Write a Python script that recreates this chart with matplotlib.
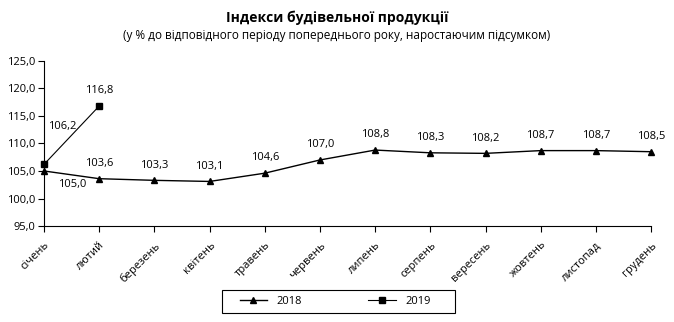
import matplotlib
matplotlib.use("Agg")
import matplotlib.pyplot as plt
from matplotlib.patches import Rectangle

plt.rcParams['font.family'] = ['Open Sans', 'DejaVu Sans']

months = ["січень", "лютий", "березень", "квітень", "травень", "червень",
          "липень", "серпень", "вересень", "жовтень", "листопад", "грудень"]
idx_2018 = [105.0, 103.6, 103.3, 103.1, 104.6, 107.0, 108.8, 108.3, 108.2, 108.7, 108.7, 108.5]
idx_2019 = [106.2, 116.8]
y_ticks = [95.0, 100.0, 105.0, 110.0, 115.0, 120.0, 125.0]

fig = plt.figure(figsize=(6.74, 3.22), dpi=100)
ax = fig.add_axes([0.0653, 0.298, 0.9007, 0.513])

x18 = list(range(len(idx_2018)))
x19 = list(range(len(idx_2019)))
ax.plot(x18, idx_2018, color="black", lw=1.0, marker="^", ms=4.5, label="2018")
ax.plot(x19, idx_2019, color="black", lw=0.8, marker="s", ms=4.2, label="2019")

def fmt(v):
    return f"{v:.1f}".replace(".", ",")

for i, v in enumerate(idx_2018):
    if i == 0:
        ax.annotate(fmt(v), (i, v), xytext=(20, -10), textcoords="offset points",
                    ha="center", va="center", fontsize=8)
    else:
        ax.annotate(fmt(v), (i, v), xytext=(0, 11), textcoords="offset points",
                    ha="center", va="center", fontsize=8)

ax.annotate(fmt(idx_2019[0]), (0, idx_2019[0]), xytext=(13, 27), textcoords="offset points",
            ha="center", va="center", fontsize=8)
ax.annotate(fmt(idx_2019[1]), (1, idx_2019[1]), xytext=(0, 11), textcoords="offset points",
            ha="center", va="center", fontsize=8)

ax.set_xlim(0, 11)
ax.set_ylim(95, 125)
ax.set_yticks(y_ticks)
ax.set_yticklabels([fmt(t) for t in y_ticks], fontsize=8)
ax.set_xticks(x18)
ax.set_xticklabels(months, rotation=45, ha="right", rotation_mode="anchor", fontsize=8)
ax.tick_params(axis="x", length=4, width=0.8, pad=6)
ax.tick_params(axis="y", length=4, width=0.8, pad=2)
for s in ("top", "right"):
    ax.spines[s].set_visible(False)
for s in ("left", "bottom"):
    ax.spines[s].set_linewidth(0.8)
for ln in ax.lines:
    ln.set_clip_on(False)

fig.text(0.5, 0.945, "Індекси будівельної продукції", ha="center", va="center",
         fontsize=10, fontweight="bold")
fig.text(0.5, 0.89, "(у % до відповідного періоду попереднього року, наростаючим підсумком)",
         ha="center", va="center", fontsize=8.5)

# legend with a separate rectangular frame
leg = fig.legend(loc="center", bbox_to_anchor=(0.497, 0.065), ncol=2, fontsize=8,
                 frameon=False, handlelength=2.5, columnspacing=6)
fig.add_artist(Rectangle((222 / 674, 1 - 313 / 322), 233 / 674, 23 / 322,
                         transform=fig.transFigure, fill=False, edgecolor="black", lw=0.8))

fig.savefig("out.png", dpi=100)
